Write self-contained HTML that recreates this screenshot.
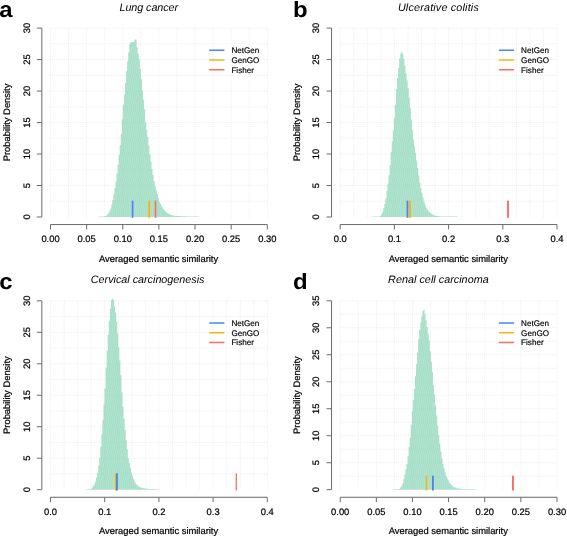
<!DOCTYPE html>
<html><head><meta charset="utf-8"><title>Semantic similarity distributions</title>
<style>html,body{margin:0;padding:0;background:#fff;}body{width:567px;height:538px;overflow:hidden;font-family:"Liberation Sans",sans-serif;}svg{display:block;}text{text-rendering:geometricPrecision;}</style>
</head><body>
<svg width="567" height="538" viewBox="0 0 567 538">
<rect width="567" height="538" fill="#fff"/>
<defs>
<pattern id="stripe-a" patternUnits="userSpaceOnUse" x="0" y="0" width="2" height="13"><path d="M0,0h1v8h-1zM1,8h1v5h-1z" fill="#fff" fill-opacity="0.05"/><path d="M1,0h1v8h-1zM0,8h1v5h-1z" fill="#2a7a5c" fill-opacity="0.03"/></pattern>
<pattern id="stripe-b" patternUnits="userSpaceOnUse" x="0" y="0" width="2" height="13"><path d="M0,0h1v8h-1zM1,8h1v5h-1z" fill="#fff" fill-opacity="0.05"/><path d="M1,0h1v8h-1zM0,8h1v5h-1z" fill="#2a7a5c" fill-opacity="0.03"/></pattern>
<pattern id="stripe-c" patternUnits="userSpaceOnUse" x="0" y="0" width="2" height="13"><path d="M0,0h1v8h-1zM1,8h1v5h-1z" fill="#fff" fill-opacity="0.05"/><path d="M1,0h1v8h-1zM0,8h1v5h-1z" fill="#2a7a5c" fill-opacity="0.03"/></pattern>
<pattern id="stripe-d" patternUnits="userSpaceOnUse" x="0" y="0" width="2" height="13"><path d="M0,0h1v8h-1zM1,8h1v5h-1z" fill="#fff" fill-opacity="0.05"/><path d="M1,0h1v8h-1zM0,8h1v5h-1z" fill="#2a7a5c" fill-opacity="0.03"/></pattern>
</defs>
<g id="panel-a">
<g stroke="#d7d7d7" stroke-width="0.6" stroke-dasharray="0.7 1.3" fill="none">
<line x1="50.50" y1="28.10" x2="50.50" y2="217.00"/>
<line x1="68.57" y1="28.10" x2="68.57" y2="217.00"/>
<line x1="86.63" y1="28.10" x2="86.63" y2="217.00"/>
<line x1="104.70" y1="28.10" x2="104.70" y2="217.00"/>
<line x1="122.77" y1="28.10" x2="122.77" y2="217.00"/>
<line x1="140.83" y1="28.10" x2="140.83" y2="217.00"/>
<line x1="158.90" y1="28.10" x2="158.90" y2="217.00"/>
<line x1="176.97" y1="28.10" x2="176.97" y2="217.00"/>
<line x1="195.03" y1="28.10" x2="195.03" y2="217.00"/>
<line x1="213.10" y1="28.10" x2="213.10" y2="217.00"/>
<line x1="231.17" y1="28.10" x2="231.17" y2="217.00"/>
<line x1="249.23" y1="28.10" x2="249.23" y2="217.00"/>
<line x1="267.30" y1="28.10" x2="267.30" y2="217.00"/>
<line x1="50.50" y1="201.26" x2="267.30" y2="201.26"/>
<line x1="50.50" y1="185.52" x2="267.30" y2="185.52"/>
<line x1="50.50" y1="169.78" x2="267.30" y2="169.78"/>
<line x1="50.50" y1="154.03" x2="267.30" y2="154.03"/>
<line x1="50.50" y1="138.29" x2="267.30" y2="138.29"/>
<line x1="50.50" y1="122.55" x2="267.30" y2="122.55"/>
<line x1="50.50" y1="106.81" x2="267.30" y2="106.81"/>
<line x1="50.50" y1="91.07" x2="267.30" y2="91.07"/>
<line x1="50.50" y1="75.32" x2="267.30" y2="75.32"/>
<line x1="50.50" y1="59.58" x2="267.30" y2="59.58"/>
<line x1="50.50" y1="43.84" x2="267.30" y2="43.84"/>
<line x1="50.50" y1="28.10" x2="267.30" y2="28.10"/>
</g>
<path id="hist-a" fill="#ace2cc" d="M98.50,217.00V216.55H99.56V216.54H100.62V216.51H101.68V216.47H102.74V216.44H103.80V216.41H104.86V215.97H105.92V215.32H106.98V214.48H108.04V213.25H109.10V211.34H110.16V208.63H111.22V204.60H112.28V199.94H113.34V194.13H114.40V188.32H115.46V181.58H116.52V173.60H117.58V164.76H118.64V154.84H119.70V144.93H120.76V133.95H121.82V119.21H122.88V104.64H123.94V94.79H125.00V82.90H126.06V71.24H127.12V61.33H128.18V52.52H129.24V43.94H130.30V42.06H131.36V42.21H132.42V42.06H133.48V41.86H134.54V39.60H135.60V39.60H136.66V47.52H137.72V53.41H138.78V59.29H139.84V69.00H140.90V79.37H141.96V90.60H143.02V99.59H144.08V109.05H145.14V122.53H146.20V129.71H147.26V136.89H148.32V145.64H149.38V154.30H150.44V161.63H151.50V168.96H152.56V174.98H153.62V180.97H154.68V186.31H155.74V190.32H156.80V194.33H157.86V198.34H158.92V201.64H159.98V203.67H161.04V205.71H162.10V207.74H163.16V209.15H164.22V210.47H165.28V211.79H166.34V212.81H167.40V213.37H168.46V213.92H169.52V214.48H170.58V214.90H171.64V215.15H172.70V215.40H173.76V215.64H174.82V215.82H175.88V215.88H176.94V215.94H178.00V216.00H179.06V216.06H180.12V216.12H181.18V216.19H182.24V216.25H183.30V216.31H184.36V216.37H185.42V216.41H186.48V216.42H187.54V216.44H188.60V216.45H189.66V216.47H190.72V216.48H191.78V216.50H192.84V216.51H193.90V216.53H194.96V216.55H196.02V216.55H197.08V216.55H198.14V216.55H199.20V217.00Z"/>
<path fill="url(#stripe-a)" d="M98.50,217.00V216.55H99.56V216.54H100.62V216.51H101.68V216.47H102.74V216.44H103.80V216.41H104.86V215.97H105.92V215.32H106.98V214.48H108.04V213.25H109.10V211.34H110.16V208.63H111.22V204.60H112.28V199.94H113.34V194.13H114.40V188.32H115.46V181.58H116.52V173.60H117.58V164.76H118.64V154.84H119.70V144.93H120.76V133.95H121.82V119.21H122.88V104.64H123.94V94.79H125.00V82.90H126.06V71.24H127.12V61.33H128.18V52.52H129.24V43.94H130.30V42.06H131.36V42.21H132.42V42.06H133.48V41.86H134.54V39.60H135.60V39.60H136.66V47.52H137.72V53.41H138.78V59.29H139.84V69.00H140.90V79.37H141.96V90.60H143.02V99.59H144.08V109.05H145.14V122.53H146.20V129.71H147.26V136.89H148.32V145.64H149.38V154.30H150.44V161.63H151.50V168.96H152.56V174.98H153.62V180.97H154.68V186.31H155.74V190.32H156.80V194.33H157.86V198.34H158.92V201.64H159.98V203.67H161.04V205.71H162.10V207.74H163.16V209.15H164.22V210.47H165.28V211.79H166.34V212.81H167.40V213.37H168.46V213.92H169.52V214.48H170.58V214.90H171.64V215.15H172.70V215.40H173.76V215.64H174.82V215.82H175.88V215.88H176.94V215.94H178.00V216.00H179.06V216.06H180.12V216.12H181.18V216.19H182.24V216.25H183.30V216.31H184.36V216.37H185.42V216.41H186.48V216.42H187.54V216.44H188.60V216.45H189.66V216.47H190.72V216.48H191.78V216.50H192.84V216.51H193.90V216.53H194.96V216.55H196.02V216.55H197.08V216.55H198.14V216.55H199.20V217.00Z"/>
<clipPath id="clip-a"><path d="M98.50,217.00V216.55H99.56V216.54H100.62V216.51H101.68V216.47H102.74V216.44H103.80V216.41H104.86V215.97H105.92V215.32H106.98V214.48H108.04V213.25H109.10V211.34H110.16V208.63H111.22V204.60H112.28V199.94H113.34V194.13H114.40V188.32H115.46V181.58H116.52V173.60H117.58V164.76H118.64V154.84H119.70V144.93H120.76V133.95H121.82V119.21H122.88V104.64H123.94V94.79H125.00V82.90H126.06V71.24H127.12V61.33H128.18V52.52H129.24V43.94H130.30V42.06H131.36V42.21H132.42V42.06H133.48V41.86H134.54V39.60H135.60V39.60H136.66V47.52H137.72V53.41H138.78V59.29H139.84V69.00H140.90V79.37H141.96V90.60H143.02V99.59H144.08V109.05H145.14V122.53H146.20V129.71H147.26V136.89H148.32V145.64H149.38V154.30H150.44V161.63H151.50V168.96H152.56V174.98H153.62V180.97H154.68V186.31H155.74V190.32H156.80V194.33H157.86V198.34H158.92V201.64H159.98V203.67H161.04V205.71H162.10V207.74H163.16V209.15H164.22V210.47H165.28V211.79H166.34V212.81H167.40V213.37H168.46V213.92H169.52V214.48H170.58V214.90H171.64V215.15H172.70V215.40H173.76V215.64H174.82V215.82H175.88V215.88H176.94V215.94H178.00V216.00H179.06V216.06H180.12V216.12H181.18V216.19H182.24V216.25H183.30V216.31H184.36V216.37H185.42V216.41H186.48V216.42H187.54V216.44H188.60V216.45H189.66V216.47H190.72V216.48H191.78V216.50H192.84V216.51H193.90V216.53H194.96V216.55H196.02V216.55H197.08V216.55H198.14V216.55H199.20V217.00Z"/></clipPath>
<g clip-path="url(#clip-a)" stroke="#8fbfae" stroke-opacity="0.28" stroke-width="0.6" stroke-dasharray="0.7 1.3" fill="none">
<line x1="104.70" y1="28.10" x2="104.70" y2="217.00"/>
<line x1="122.77" y1="28.10" x2="122.77" y2="217.00"/>
<line x1="140.83" y1="28.10" x2="140.83" y2="217.00"/>
<line x1="158.90" y1="28.10" x2="158.90" y2="217.00"/>
<line x1="176.97" y1="28.10" x2="176.97" y2="217.00"/>
<line x1="195.03" y1="28.10" x2="195.03" y2="217.00"/>
<line x1="98.50" y1="201.26" x2="199.00" y2="201.26"/>
<line x1="98.50" y1="185.52" x2="199.00" y2="185.52"/>
<line x1="98.50" y1="169.78" x2="199.00" y2="169.78"/>
<line x1="98.50" y1="154.03" x2="199.00" y2="154.03"/>
<line x1="98.50" y1="138.29" x2="199.00" y2="138.29"/>
<line x1="98.50" y1="122.55" x2="199.00" y2="122.55"/>
<line x1="98.50" y1="106.81" x2="199.00" y2="106.81"/>
<line x1="98.50" y1="91.07" x2="199.00" y2="91.07"/>
<line x1="98.50" y1="75.32" x2="199.00" y2="75.32"/>
<line x1="98.50" y1="59.58" x2="199.00" y2="59.58"/>
<line x1="98.50" y1="43.84" x2="199.00" y2="43.84"/>
<line x1="98.50" y1="28.10" x2="199.00" y2="28.10"/>
</g>
<line x1="132.60" y1="200.66" x2="132.60" y2="217.80" stroke="#4f84ed" stroke-width="1.7"/>
<line x1="149.20" y1="200.66" x2="149.20" y2="217.80" stroke="#fbb312" stroke-width="1.85"/>
<line x1="155.50" y1="200.66" x2="155.50" y2="217.80" stroke="#f87064" stroke-width="1.7"/>
<g stroke="#6a6a6a" stroke-width="1" fill="none">
<path d="M41.85,28.10V217.00M41.85,217.00h-5M41.85,185.52h-5M41.85,154.03h-5M41.85,122.55h-5M41.85,91.07h-5M41.85,59.58h-5M41.85,28.10h-5M50.50,224.55H267.30M50.50,224.55v4.9M86.63,224.55v4.9M122.77,224.55v4.9M158.90,224.55v4.9M195.03,224.55v4.9M231.17,224.55v4.9M267.30,224.55v4.9"/>
</g>
<g font-family="Liberation Sans, sans-serif" font-size="9.4" fill="#000" stroke="#000" stroke-width="0.22" text-anchor="middle" style="filter:grayscale(1)">
<text x="50.50" y="242.30">0.00</text>
<text x="86.63" y="242.30">0.05</text>
<text x="122.77" y="242.30">0.10</text>
<text x="158.90" y="242.30">0.15</text>
<text x="195.03" y="242.30">0.20</text>
<text x="231.17" y="242.30">0.25</text>
<text x="267.30" y="242.30">0.30</text>
<text transform="translate(29.55,217.00) rotate(-90)">0</text>
<text transform="translate(29.55,185.52) rotate(-90)">5</text>
<text transform="translate(29.55,154.03) rotate(-90)">10</text>
<text transform="translate(29.55,122.55) rotate(-90)">15</text>
<text transform="translate(29.55,91.07) rotate(-90)">20</text>
<text transform="translate(29.55,59.58) rotate(-90)">25</text>
<text transform="translate(29.55,28.10) rotate(-90)">30</text>
<text x="158.60" y="261.70">Averaged semantic similarity</text>
<text transform="translate(10.25,122.45) rotate(-90)">Probability Density</text>
</g>
<line x1="209.70" y1="50.30" x2="223.90" y2="50.30" stroke="#4f84ed" stroke-width="1.4" stroke-linecap="round"/>
<line x1="209.70" y1="60.05" x2="223.90" y2="60.05" stroke="#fbb312" stroke-width="1.4" stroke-linecap="round"/>
<line x1="209.70" y1="69.80" x2="223.90" y2="69.80" stroke="#f87064" stroke-width="1.4" stroke-linecap="round"/>
<g font-family="Liberation Sans, sans-serif" font-size="8.1" fill="#000" stroke="#000" stroke-width="0.18" style="filter:grayscale(1)">
<text x="231.40" y="53.20">NetGen</text>
<text x="231.40" y="62.95">GenGO</text>
<text x="231.40" y="72.70">Fisher</text>
</g>
<text x="148.80" y="10.70" font-family="Liberation Sans, sans-serif" font-style="italic" font-size="10.8" fill="#000" text-anchor="middle" textLength="58.6" lengthAdjust="spacing" style="filter:grayscale(1)">Lung cancer</text>
<text transform="translate(-0.80,16.80) scale(1.08,1)" font-family="Liberation Sans, sans-serif" font-weight="bold" font-size="22.2" fill="#000" style="filter:grayscale(1)">a</text>
</g>
<g id="panel-b">
<g stroke="#d7d7d7" stroke-width="0.6" stroke-dasharray="0.7 1.3" fill="none">
<line x1="340.20" y1="28.10" x2="340.20" y2="217.00"/>
<line x1="353.75" y1="28.10" x2="353.75" y2="217.00"/>
<line x1="367.30" y1="28.10" x2="367.30" y2="217.00"/>
<line x1="380.85" y1="28.10" x2="380.85" y2="217.00"/>
<line x1="394.40" y1="28.10" x2="394.40" y2="217.00"/>
<line x1="407.95" y1="28.10" x2="407.95" y2="217.00"/>
<line x1="421.50" y1="28.10" x2="421.50" y2="217.00"/>
<line x1="435.05" y1="28.10" x2="435.05" y2="217.00"/>
<line x1="448.60" y1="28.10" x2="448.60" y2="217.00"/>
<line x1="462.15" y1="28.10" x2="462.15" y2="217.00"/>
<line x1="475.70" y1="28.10" x2="475.70" y2="217.00"/>
<line x1="489.25" y1="28.10" x2="489.25" y2="217.00"/>
<line x1="502.80" y1="28.10" x2="502.80" y2="217.00"/>
<line x1="516.35" y1="28.10" x2="516.35" y2="217.00"/>
<line x1="529.90" y1="28.10" x2="529.90" y2="217.00"/>
<line x1="543.45" y1="28.10" x2="543.45" y2="217.00"/>
<line x1="557.00" y1="28.10" x2="557.00" y2="217.00"/>
<line x1="340.20" y1="201.26" x2="557.00" y2="201.26"/>
<line x1="340.20" y1="185.52" x2="557.00" y2="185.52"/>
<line x1="340.20" y1="169.78" x2="557.00" y2="169.78"/>
<line x1="340.20" y1="154.03" x2="557.00" y2="154.03"/>
<line x1="340.20" y1="138.29" x2="557.00" y2="138.29"/>
<line x1="340.20" y1="122.55" x2="557.00" y2="122.55"/>
<line x1="340.20" y1="106.81" x2="557.00" y2="106.81"/>
<line x1="340.20" y1="91.07" x2="557.00" y2="91.07"/>
<line x1="340.20" y1="75.32" x2="557.00" y2="75.32"/>
<line x1="340.20" y1="59.58" x2="557.00" y2="59.58"/>
<line x1="340.20" y1="43.84" x2="557.00" y2="43.84"/>
<line x1="340.20" y1="28.10" x2="557.00" y2="28.10"/>
</g>
<path id="hist-b" fill="#ace2cc" d="M371.60,217.00V216.55H372.66V216.55H373.72V216.55H374.78V216.55H375.84V216.52H376.90V216.49H377.96V216.45H379.02V216.41H380.08V215.72H381.14V214.15H382.20V211.89H383.26V208.32H384.32V203.88H385.38V198.31H386.44V190.98H387.50V183.46H388.56V175.09H389.62V165.03H390.68V151.63H391.74V141.49H392.80V130.31H393.86V118.19H394.92V104.87H395.98V88.99H397.04V78.04H398.10V67.91H399.16V58.78H400.22V53.86H401.28V51.70H402.34V54.02H403.40V58.88H404.46V65.85H405.52V73.14H406.58V80.55H407.64V88.02H408.70V97.41H409.76V108.02H410.82V119.18H411.88V130.20H412.94V139.87H414.00V146.35H415.06V152.84H416.12V160.42H417.18V168.08H418.24V175.42H419.30V182.70H420.36V188.20H421.42V192.88H422.48V197.57H423.54V201.79H424.60V204.86H425.66V207.55H426.72V209.33H427.78V211.11H428.84V212.10H429.90V213.04H430.96V213.87H432.02V214.44H433.08V215.00H434.14V215.46H435.20V215.66H436.26V215.86H437.32V216.06H438.38V216.26H439.44V216.41H440.50V216.42H441.56V216.44H442.62V216.46H443.68V216.48H444.74V216.49H445.80V216.51H446.86V216.53H447.92V216.55H448.98V216.55H450.04V216.55H451.10V216.55H452.16V216.55H453.22V216.55H454.28V216.55H455.34V216.55H456.40V216.55H457.46V217.00Z"/>
<path fill="url(#stripe-b)" d="M371.60,217.00V216.55H372.66V216.55H373.72V216.55H374.78V216.55H375.84V216.52H376.90V216.49H377.96V216.45H379.02V216.41H380.08V215.72H381.14V214.15H382.20V211.89H383.26V208.32H384.32V203.88H385.38V198.31H386.44V190.98H387.50V183.46H388.56V175.09H389.62V165.03H390.68V151.63H391.74V141.49H392.80V130.31H393.86V118.19H394.92V104.87H395.98V88.99H397.04V78.04H398.10V67.91H399.16V58.78H400.22V53.86H401.28V51.70H402.34V54.02H403.40V58.88H404.46V65.85H405.52V73.14H406.58V80.55H407.64V88.02H408.70V97.41H409.76V108.02H410.82V119.18H411.88V130.20H412.94V139.87H414.00V146.35H415.06V152.84H416.12V160.42H417.18V168.08H418.24V175.42H419.30V182.70H420.36V188.20H421.42V192.88H422.48V197.57H423.54V201.79H424.60V204.86H425.66V207.55H426.72V209.33H427.78V211.11H428.84V212.10H429.90V213.04H430.96V213.87H432.02V214.44H433.08V215.00H434.14V215.46H435.20V215.66H436.26V215.86H437.32V216.06H438.38V216.26H439.44V216.41H440.50V216.42H441.56V216.44H442.62V216.46H443.68V216.48H444.74V216.49H445.80V216.51H446.86V216.53H447.92V216.55H448.98V216.55H450.04V216.55H451.10V216.55H452.16V216.55H453.22V216.55H454.28V216.55H455.34V216.55H456.40V216.55H457.46V217.00Z"/>
<clipPath id="clip-b"><path d="M371.60,217.00V216.55H372.66V216.55H373.72V216.55H374.78V216.55H375.84V216.52H376.90V216.49H377.96V216.45H379.02V216.41H380.08V215.72H381.14V214.15H382.20V211.89H383.26V208.32H384.32V203.88H385.38V198.31H386.44V190.98H387.50V183.46H388.56V175.09H389.62V165.03H390.68V151.63H391.74V141.49H392.80V130.31H393.86V118.19H394.92V104.87H395.98V88.99H397.04V78.04H398.10V67.91H399.16V58.78H400.22V53.86H401.28V51.70H402.34V54.02H403.40V58.88H404.46V65.85H405.52V73.14H406.58V80.55H407.64V88.02H408.70V97.41H409.76V108.02H410.82V119.18H411.88V130.20H412.94V139.87H414.00V146.35H415.06V152.84H416.12V160.42H417.18V168.08H418.24V175.42H419.30V182.70H420.36V188.20H421.42V192.88H422.48V197.57H423.54V201.79H424.60V204.86H425.66V207.55H426.72V209.33H427.78V211.11H428.84V212.10H429.90V213.04H430.96V213.87H432.02V214.44H433.08V215.00H434.14V215.46H435.20V215.66H436.26V215.86H437.32V216.06H438.38V216.26H439.44V216.41H440.50V216.42H441.56V216.44H442.62V216.46H443.68V216.48H444.74V216.49H445.80V216.51H446.86V216.53H447.92V216.55H448.98V216.55H450.04V216.55H451.10V216.55H452.16V216.55H453.22V216.55H454.28V216.55H455.34V216.55H456.40V216.55H457.46V217.00Z"/></clipPath>
<g clip-path="url(#clip-b)" stroke="#8fbfae" stroke-opacity="0.28" stroke-width="0.6" stroke-dasharray="0.7 1.3" fill="none">
<line x1="380.85" y1="28.10" x2="380.85" y2="217.00"/>
<line x1="394.40" y1="28.10" x2="394.40" y2="217.00"/>
<line x1="407.95" y1="28.10" x2="407.95" y2="217.00"/>
<line x1="421.50" y1="28.10" x2="421.50" y2="217.00"/>
<line x1="435.05" y1="28.10" x2="435.05" y2="217.00"/>
<line x1="448.60" y1="28.10" x2="448.60" y2="217.00"/>
<line x1="371.60" y1="201.26" x2="457.40" y2="201.26"/>
<line x1="371.60" y1="185.52" x2="457.40" y2="185.52"/>
<line x1="371.60" y1="169.78" x2="457.40" y2="169.78"/>
<line x1="371.60" y1="154.03" x2="457.40" y2="154.03"/>
<line x1="371.60" y1="138.29" x2="457.40" y2="138.29"/>
<line x1="371.60" y1="122.55" x2="457.40" y2="122.55"/>
<line x1="371.60" y1="106.81" x2="457.40" y2="106.81"/>
<line x1="371.60" y1="91.07" x2="457.40" y2="91.07"/>
<line x1="371.60" y1="75.32" x2="457.40" y2="75.32"/>
<line x1="371.60" y1="59.58" x2="457.40" y2="59.58"/>
<line x1="371.60" y1="43.84" x2="457.40" y2="43.84"/>
<line x1="371.60" y1="28.10" x2="457.40" y2="28.10"/>
</g>
<line x1="407.45" y1="200.66" x2="407.45" y2="217.80" stroke="#4f84ed" stroke-width="1.8"/>
<line x1="409.95" y1="200.66" x2="409.95" y2="217.80" stroke="#fbb312" stroke-width="1.95"/>
<line x1="508.05" y1="200.66" x2="508.05" y2="217.80" stroke="#f87064" stroke-width="1.95"/>
<g stroke="#6a6a6a" stroke-width="1" fill="none">
<path d="M331.55,28.10V217.00M331.55,217.00h-5M331.55,185.52h-5M331.55,154.03h-5M331.55,122.55h-5M331.55,91.07h-5M331.55,59.58h-5M331.55,28.10h-5M340.20,224.55H557.00M340.20,224.55v4.9M394.40,224.55v4.9M448.60,224.55v4.9M502.80,224.55v4.9M557.00,224.55v4.9"/>
</g>
<g font-family="Liberation Sans, sans-serif" font-size="9.4" fill="#000" stroke="#000" stroke-width="0.22" text-anchor="middle" style="filter:grayscale(1)">
<text x="340.20" y="242.30">0.0</text>
<text x="394.40" y="242.30">0.1</text>
<text x="448.60" y="242.30">0.2</text>
<text x="502.80" y="242.30">0.3</text>
<text x="557.00" y="242.30">0.4</text>
<text transform="translate(319.25,217.00) rotate(-90)">0</text>
<text transform="translate(319.25,185.52) rotate(-90)">5</text>
<text transform="translate(319.25,154.03) rotate(-90)">10</text>
<text transform="translate(319.25,122.55) rotate(-90)">15</text>
<text transform="translate(319.25,91.07) rotate(-90)">20</text>
<text transform="translate(319.25,59.58) rotate(-90)">25</text>
<text transform="translate(319.25,28.10) rotate(-90)">30</text>
<text x="448.30" y="261.70">Averaged semantic similarity</text>
<text transform="translate(299.95,122.45) rotate(-90)">Probability Density</text>
</g>
<line x1="499.40" y1="50.30" x2="513.60" y2="50.30" stroke="#4f84ed" stroke-width="1.4" stroke-linecap="round"/>
<line x1="499.40" y1="60.05" x2="513.60" y2="60.05" stroke="#fbb312" stroke-width="1.4" stroke-linecap="round"/>
<line x1="499.40" y1="69.80" x2="513.60" y2="69.80" stroke="#f87064" stroke-width="1.4" stroke-linecap="round"/>
<g font-family="Liberation Sans, sans-serif" font-size="8.1" fill="#000" stroke="#000" stroke-width="0.18" style="filter:grayscale(1)">
<text x="521.10" y="53.20">NetGen</text>
<text x="521.10" y="62.95">GenGO</text>
<text x="521.10" y="72.70">Fisher</text>
</g>
<text x="438.35" y="10.70" font-family="Liberation Sans, sans-serif" font-style="italic" font-size="10.8" fill="#000" text-anchor="middle" textLength="80.9" lengthAdjust="spacing" style="filter:grayscale(1)">Ulcerative colitis</text>
<text transform="translate(292.90,16.80) scale(1.08,1)" font-family="Liberation Sans, sans-serif" font-weight="bold" font-size="22.2" fill="#000" style="filter:grayscale(1)">b</text>
</g>
<g id="panel-c">
<g stroke="#d7d7d7" stroke-width="0.6" stroke-dasharray="0.7 1.3" fill="none">
<line x1="50.50" y1="300.80" x2="50.50" y2="489.70"/>
<line x1="64.05" y1="300.80" x2="64.05" y2="489.70"/>
<line x1="77.60" y1="300.80" x2="77.60" y2="489.70"/>
<line x1="91.15" y1="300.80" x2="91.15" y2="489.70"/>
<line x1="104.70" y1="300.80" x2="104.70" y2="489.70"/>
<line x1="118.25" y1="300.80" x2="118.25" y2="489.70"/>
<line x1="131.80" y1="300.80" x2="131.80" y2="489.70"/>
<line x1="145.35" y1="300.80" x2="145.35" y2="489.70"/>
<line x1="158.90" y1="300.80" x2="158.90" y2="489.70"/>
<line x1="172.45" y1="300.80" x2="172.45" y2="489.70"/>
<line x1="186.00" y1="300.80" x2="186.00" y2="489.70"/>
<line x1="199.55" y1="300.80" x2="199.55" y2="489.70"/>
<line x1="213.10" y1="300.80" x2="213.10" y2="489.70"/>
<line x1="226.65" y1="300.80" x2="226.65" y2="489.70"/>
<line x1="240.20" y1="300.80" x2="240.20" y2="489.70"/>
<line x1="253.75" y1="300.80" x2="253.75" y2="489.70"/>
<line x1="267.30" y1="300.80" x2="267.30" y2="489.70"/>
<line x1="50.50" y1="473.96" x2="267.30" y2="473.96"/>
<line x1="50.50" y1="458.22" x2="267.30" y2="458.22"/>
<line x1="50.50" y1="442.48" x2="267.30" y2="442.48"/>
<line x1="50.50" y1="426.73" x2="267.30" y2="426.73"/>
<line x1="50.50" y1="410.99" x2="267.30" y2="410.99"/>
<line x1="50.50" y1="395.25" x2="267.30" y2="395.25"/>
<line x1="50.50" y1="379.51" x2="267.30" y2="379.51"/>
<line x1="50.50" y1="363.77" x2="267.30" y2="363.77"/>
<line x1="50.50" y1="348.02" x2="267.30" y2="348.02"/>
<line x1="50.50" y1="332.28" x2="267.30" y2="332.28"/>
<line x1="50.50" y1="316.54" x2="267.30" y2="316.54"/>
<line x1="50.50" y1="300.80" x2="267.30" y2="300.80"/>
</g>
<path id="hist-c" fill="#ace2cc" d="M86.50,489.70V489.24H87.56V489.16H88.62V489.08H89.68V488.99H90.74V488.91H91.80V487.61H92.86V486.03H93.92V484.47H94.98V481.65H96.04V477.61H97.10V472.75H98.16V465.42H99.22V458.04H100.28V446.80H101.34V434.58H102.40V420.22H103.46V404.58H104.52V388.49H105.58V367.77H106.64V350.52H107.70V334.96H108.76V320.74H109.82V308.81H110.88V300.20H111.94V298.60H113.00V300.00H114.06V306.03H115.12V312.87H116.18V321.94H117.24V333.39H118.30V347.44H119.36V360.44H120.42V375.15H121.48V392.46H122.54V406.70H123.60V418.71H124.66V429.71H125.72V440.18H126.78V449.37H127.84V458.22H128.90V463.04H129.96V467.85H131.02V472.67H132.08V476.16H133.14V479.08H134.20V481.56H135.26V483.17H136.32V484.54H137.38V485.46H138.44V486.39H139.50V487.14H140.56V487.55H141.62V487.96H142.68V488.25H143.74V488.36H144.80V488.48H145.86V488.60H146.92V488.71H147.98V488.83H149.04V488.92H150.10V488.96H151.16V489.01H152.22V489.05H153.28V489.10H154.34V489.14H155.40V489.18H156.46V489.23H157.52V489.25H158.58V489.70Z"/>
<path fill="url(#stripe-c)" d="M86.50,489.70V489.24H87.56V489.16H88.62V489.08H89.68V488.99H90.74V488.91H91.80V487.61H92.86V486.03H93.92V484.47H94.98V481.65H96.04V477.61H97.10V472.75H98.16V465.42H99.22V458.04H100.28V446.80H101.34V434.58H102.40V420.22H103.46V404.58H104.52V388.49H105.58V367.77H106.64V350.52H107.70V334.96H108.76V320.74H109.82V308.81H110.88V300.20H111.94V298.60H113.00V300.00H114.06V306.03H115.12V312.87H116.18V321.94H117.24V333.39H118.30V347.44H119.36V360.44H120.42V375.15H121.48V392.46H122.54V406.70H123.60V418.71H124.66V429.71H125.72V440.18H126.78V449.37H127.84V458.22H128.90V463.04H129.96V467.85H131.02V472.67H132.08V476.16H133.14V479.08H134.20V481.56H135.26V483.17H136.32V484.54H137.38V485.46H138.44V486.39H139.50V487.14H140.56V487.55H141.62V487.96H142.68V488.25H143.74V488.36H144.80V488.48H145.86V488.60H146.92V488.71H147.98V488.83H149.04V488.92H150.10V488.96H151.16V489.01H152.22V489.05H153.28V489.10H154.34V489.14H155.40V489.18H156.46V489.23H157.52V489.25H158.58V489.70Z"/>
<clipPath id="clip-c"><path d="M86.50,489.70V489.24H87.56V489.16H88.62V489.08H89.68V488.99H90.74V488.91H91.80V487.61H92.86V486.03H93.92V484.47H94.98V481.65H96.04V477.61H97.10V472.75H98.16V465.42H99.22V458.04H100.28V446.80H101.34V434.58H102.40V420.22H103.46V404.58H104.52V388.49H105.58V367.77H106.64V350.52H107.70V334.96H108.76V320.74H109.82V308.81H110.88V300.20H111.94V298.60H113.00V300.00H114.06V306.03H115.12V312.87H116.18V321.94H117.24V333.39H118.30V347.44H119.36V360.44H120.42V375.15H121.48V392.46H122.54V406.70H123.60V418.71H124.66V429.71H125.72V440.18H126.78V449.37H127.84V458.22H128.90V463.04H129.96V467.85H131.02V472.67H132.08V476.16H133.14V479.08H134.20V481.56H135.26V483.17H136.32V484.54H137.38V485.46H138.44V486.39H139.50V487.14H140.56V487.55H141.62V487.96H142.68V488.25H143.74V488.36H144.80V488.48H145.86V488.60H146.92V488.71H147.98V488.83H149.04V488.92H150.10V488.96H151.16V489.01H152.22V489.05H153.28V489.10H154.34V489.14H155.40V489.18H156.46V489.23H157.52V489.25H158.58V489.70Z"/></clipPath>
<g clip-path="url(#clip-c)" stroke="#8fbfae" stroke-opacity="0.28" stroke-width="0.6" stroke-dasharray="0.7 1.3" fill="none">
<line x1="91.15" y1="300.80" x2="91.15" y2="489.70"/>
<line x1="104.70" y1="300.80" x2="104.70" y2="489.70"/>
<line x1="118.25" y1="300.80" x2="118.25" y2="489.70"/>
<line x1="131.80" y1="300.80" x2="131.80" y2="489.70"/>
<line x1="145.35" y1="300.80" x2="145.35" y2="489.70"/>
<line x1="158.90" y1="300.80" x2="158.90" y2="489.70"/>
<line x1="86.50" y1="473.96" x2="158.40" y2="473.96"/>
<line x1="86.50" y1="458.22" x2="158.40" y2="458.22"/>
<line x1="86.50" y1="442.48" x2="158.40" y2="442.48"/>
<line x1="86.50" y1="426.73" x2="158.40" y2="426.73"/>
<line x1="86.50" y1="410.99" x2="158.40" y2="410.99"/>
<line x1="86.50" y1="395.25" x2="158.40" y2="395.25"/>
<line x1="86.50" y1="379.51" x2="158.40" y2="379.51"/>
<line x1="86.50" y1="363.77" x2="158.40" y2="363.77"/>
<line x1="86.50" y1="348.02" x2="158.40" y2="348.02"/>
<line x1="86.50" y1="332.28" x2="158.40" y2="332.28"/>
<line x1="86.50" y1="316.54" x2="158.40" y2="316.54"/>
<line x1="86.50" y1="300.80" x2="158.40" y2="300.80"/>
</g>
<line x1="115.80" y1="473.36" x2="115.80" y2="490.50" stroke="#fbb312" stroke-width="1.8"/>
<line x1="116.95" y1="473.36" x2="116.95" y2="490.50" stroke="#4f84ed" stroke-width="1.8"/>
<line x1="236.30" y1="473.36" x2="236.30" y2="490.50" stroke="#f87064" stroke-width="1.3"/>
<g stroke="#6a6a6a" stroke-width="1" fill="none">
<path d="M41.85,300.80V489.70M41.85,489.70h-5M41.85,458.22h-5M41.85,426.73h-5M41.85,395.25h-5M41.85,363.77h-5M41.85,332.28h-5M41.85,300.80h-5M50.50,497.25H267.30M50.50,497.25v4.9M104.70,497.25v4.9M158.90,497.25v4.9M213.10,497.25v4.9M267.30,497.25v4.9"/>
</g>
<g font-family="Liberation Sans, sans-serif" font-size="9.4" fill="#000" stroke="#000" stroke-width="0.22" text-anchor="middle" style="filter:grayscale(1)">
<text x="50.50" y="515.00">0.0</text>
<text x="104.70" y="515.00">0.1</text>
<text x="158.90" y="515.00">0.2</text>
<text x="213.10" y="515.00">0.3</text>
<text x="267.30" y="515.00">0.4</text>
<text transform="translate(29.55,489.70) rotate(-90)">0</text>
<text transform="translate(29.55,458.22) rotate(-90)">5</text>
<text transform="translate(29.55,426.73) rotate(-90)">10</text>
<text transform="translate(29.55,395.25) rotate(-90)">15</text>
<text transform="translate(29.55,363.77) rotate(-90)">20</text>
<text transform="translate(29.55,332.28) rotate(-90)">25</text>
<text transform="translate(29.55,300.80) rotate(-90)">30</text>
<text x="158.60" y="534.40">Averaged semantic similarity</text>
<text transform="translate(10.25,395.15) rotate(-90)">Probability Density</text>
</g>
<line x1="209.70" y1="323.00" x2="223.90" y2="323.00" stroke="#4f84ed" stroke-width="1.4" stroke-linecap="round"/>
<line x1="209.70" y1="332.75" x2="223.90" y2="332.75" stroke="#fbb312" stroke-width="1.4" stroke-linecap="round"/>
<line x1="209.70" y1="342.50" x2="223.90" y2="342.50" stroke="#f87064" stroke-width="1.4" stroke-linecap="round"/>
<g font-family="Liberation Sans, sans-serif" font-size="8.1" fill="#000" stroke="#000" stroke-width="0.18" style="filter:grayscale(1)">
<text x="231.40" y="325.90">NetGen</text>
<text x="231.40" y="335.65">GenGO</text>
<text x="231.40" y="345.40">Fisher</text>
</g>
<text x="147.65" y="283.40" font-family="Liberation Sans, sans-serif" font-style="italic" font-size="10.8" fill="#000" text-anchor="middle" textLength="113.7" lengthAdjust="spacing" style="filter:grayscale(1)">Cervical carcinogenesis</text>
<text transform="translate(-0.80,289.00) scale(1.08,1)" font-family="Liberation Sans, sans-serif" font-weight="bold" font-size="22.2" fill="#000" style="filter:grayscale(1)">c</text>
</g>
<g id="panel-d">
<g stroke="#d7d7d7" stroke-width="0.6" stroke-dasharray="0.7 1.3" fill="none">
<line x1="340.20" y1="300.80" x2="340.20" y2="489.70"/>
<line x1="358.27" y1="300.80" x2="358.27" y2="489.70"/>
<line x1="376.33" y1="300.80" x2="376.33" y2="489.70"/>
<line x1="394.40" y1="300.80" x2="394.40" y2="489.70"/>
<line x1="412.47" y1="300.80" x2="412.47" y2="489.70"/>
<line x1="430.53" y1="300.80" x2="430.53" y2="489.70"/>
<line x1="448.60" y1="300.80" x2="448.60" y2="489.70"/>
<line x1="466.67" y1="300.80" x2="466.67" y2="489.70"/>
<line x1="484.73" y1="300.80" x2="484.73" y2="489.70"/>
<line x1="502.80" y1="300.80" x2="502.80" y2="489.70"/>
<line x1="520.87" y1="300.80" x2="520.87" y2="489.70"/>
<line x1="538.93" y1="300.80" x2="538.93" y2="489.70"/>
<line x1="557.00" y1="300.80" x2="557.00" y2="489.70"/>
<line x1="340.20" y1="476.21" x2="557.00" y2="476.21"/>
<line x1="340.20" y1="462.71" x2="557.00" y2="462.71"/>
<line x1="340.20" y1="449.22" x2="557.00" y2="449.22"/>
<line x1="340.20" y1="435.73" x2="557.00" y2="435.73"/>
<line x1="340.20" y1="422.24" x2="557.00" y2="422.24"/>
<line x1="340.20" y1="408.74" x2="557.00" y2="408.74"/>
<line x1="340.20" y1="395.25" x2="557.00" y2="395.25"/>
<line x1="340.20" y1="381.76" x2="557.00" y2="381.76"/>
<line x1="340.20" y1="368.26" x2="557.00" y2="368.26"/>
<line x1="340.20" y1="354.77" x2="557.00" y2="354.77"/>
<line x1="340.20" y1="341.28" x2="557.00" y2="341.28"/>
<line x1="340.20" y1="327.79" x2="557.00" y2="327.79"/>
<line x1="340.20" y1="314.29" x2="557.00" y2="314.29"/>
<line x1="340.20" y1="300.80" x2="557.00" y2="300.80"/>
</g>
<path id="hist-d" fill="#ace2cc" d="M392.70,489.70V489.25H393.76V489.25H394.82V489.23H395.88V489.17H396.94V489.10H398.00V489.04H399.06V488.64H400.12V487.38H401.18V485.65H402.24V483.53H403.30V479.28H404.36V474.45H405.42V469.23H406.48V464.01H407.54V456.12H408.60V447.35H409.66V437.81H410.72V424.68H411.78V411.30H412.84V400.09H413.90V388.82H414.96V376.26H416.02V364.09H417.08V352.48H418.14V339.02H419.20V329.62H420.26V322.38H421.32V315.67H422.38V311.10H423.44V309.40H424.50V313.83H425.56V320.36H426.62V327.07H427.68V333.78H428.74V340.50H429.80V351.34H430.86V361.43H431.92V372.22H432.98V384.88H434.04V394.46H435.10V405.13H436.16V415.59H437.22V425.64H438.28V435.11H439.34V443.58H440.40V451.50H441.46V458.46H442.52V464.32H443.58V468.24H444.64V472.15H445.70V476.07H446.76V478.37H447.82V480.62H448.88V482.87H449.94V484.08H451.00V485.11H452.06V486.14H453.12V486.84H454.18V487.27H455.24V487.71H456.30V488.14H457.36V488.34H458.42V488.50H459.48V488.66H460.54V488.82H461.60V488.98H462.66V489.03H463.72V489.06H464.78V489.09H465.84V489.12H466.90V489.15H467.96V489.18H469.02V489.21H470.08V489.24H471.14V489.25H472.20V489.25H473.26V489.25H474.32V489.25H475.38V489.25H476.44V489.70Z"/>
<path fill="url(#stripe-d)" d="M392.70,489.70V489.25H393.76V489.25H394.82V489.23H395.88V489.17H396.94V489.10H398.00V489.04H399.06V488.64H400.12V487.38H401.18V485.65H402.24V483.53H403.30V479.28H404.36V474.45H405.42V469.23H406.48V464.01H407.54V456.12H408.60V447.35H409.66V437.81H410.72V424.68H411.78V411.30H412.84V400.09H413.90V388.82H414.96V376.26H416.02V364.09H417.08V352.48H418.14V339.02H419.20V329.62H420.26V322.38H421.32V315.67H422.38V311.10H423.44V309.40H424.50V313.83H425.56V320.36H426.62V327.07H427.68V333.78H428.74V340.50H429.80V351.34H430.86V361.43H431.92V372.22H432.98V384.88H434.04V394.46H435.10V405.13H436.16V415.59H437.22V425.64H438.28V435.11H439.34V443.58H440.40V451.50H441.46V458.46H442.52V464.32H443.58V468.24H444.64V472.15H445.70V476.07H446.76V478.37H447.82V480.62H448.88V482.87H449.94V484.08H451.00V485.11H452.06V486.14H453.12V486.84H454.18V487.27H455.24V487.71H456.30V488.14H457.36V488.34H458.42V488.50H459.48V488.66H460.54V488.82H461.60V488.98H462.66V489.03H463.72V489.06H464.78V489.09H465.84V489.12H466.90V489.15H467.96V489.18H469.02V489.21H470.08V489.24H471.14V489.25H472.20V489.25H473.26V489.25H474.32V489.25H475.38V489.25H476.44V489.70Z"/>
<clipPath id="clip-d"><path d="M392.70,489.70V489.25H393.76V489.25H394.82V489.23H395.88V489.17H396.94V489.10H398.00V489.04H399.06V488.64H400.12V487.38H401.18V485.65H402.24V483.53H403.30V479.28H404.36V474.45H405.42V469.23H406.48V464.01H407.54V456.12H408.60V447.35H409.66V437.81H410.72V424.68H411.78V411.30H412.84V400.09H413.90V388.82H414.96V376.26H416.02V364.09H417.08V352.48H418.14V339.02H419.20V329.62H420.26V322.38H421.32V315.67H422.38V311.10H423.44V309.40H424.50V313.83H425.56V320.36H426.62V327.07H427.68V333.78H428.74V340.50H429.80V351.34H430.86V361.43H431.92V372.22H432.98V384.88H434.04V394.46H435.10V405.13H436.16V415.59H437.22V425.64H438.28V435.11H439.34V443.58H440.40V451.50H441.46V458.46H442.52V464.32H443.58V468.24H444.64V472.15H445.70V476.07H446.76V478.37H447.82V480.62H448.88V482.87H449.94V484.08H451.00V485.11H452.06V486.14H453.12V486.84H454.18V487.27H455.24V487.71H456.30V488.14H457.36V488.34H458.42V488.50H459.48V488.66H460.54V488.82H461.60V488.98H462.66V489.03H463.72V489.06H464.78V489.09H465.84V489.12H466.90V489.15H467.96V489.18H469.02V489.21H470.08V489.24H471.14V489.25H472.20V489.25H473.26V489.25H474.32V489.25H475.38V489.25H476.44V489.70Z"/></clipPath>
<g clip-path="url(#clip-d)" stroke="#8fbfae" stroke-opacity="0.28" stroke-width="0.6" stroke-dasharray="0.7 1.3" fill="none">
<line x1="394.40" y1="300.80" x2="394.40" y2="489.70"/>
<line x1="412.47" y1="300.80" x2="412.47" y2="489.70"/>
<line x1="430.53" y1="300.80" x2="430.53" y2="489.70"/>
<line x1="448.60" y1="300.80" x2="448.60" y2="489.70"/>
<line x1="466.67" y1="300.80" x2="466.67" y2="489.70"/>
<line x1="392.70" y1="476.21" x2="475.80" y2="476.21"/>
<line x1="392.70" y1="462.71" x2="475.80" y2="462.71"/>
<line x1="392.70" y1="449.22" x2="475.80" y2="449.22"/>
<line x1="392.70" y1="435.73" x2="475.80" y2="435.73"/>
<line x1="392.70" y1="422.24" x2="475.80" y2="422.24"/>
<line x1="392.70" y1="408.74" x2="475.80" y2="408.74"/>
<line x1="392.70" y1="395.25" x2="475.80" y2="395.25"/>
<line x1="392.70" y1="381.76" x2="475.80" y2="381.76"/>
<line x1="392.70" y1="368.26" x2="475.80" y2="368.26"/>
<line x1="392.70" y1="354.77" x2="475.80" y2="354.77"/>
<line x1="392.70" y1="341.28" x2="475.80" y2="341.28"/>
<line x1="392.70" y1="327.79" x2="475.80" y2="327.79"/>
<line x1="392.70" y1="314.29" x2="475.80" y2="314.29"/>
<line x1="392.70" y1="300.80" x2="475.80" y2="300.80"/>
</g>
<line x1="426.50" y1="475.61" x2="426.50" y2="490.50" stroke="#fbb312" stroke-width="1.5"/>
<line x1="432.90" y1="475.61" x2="432.90" y2="490.50" stroke="#4f84ed" stroke-width="1.85"/>
<line x1="512.95" y1="475.61" x2="512.95" y2="490.50" stroke="#f87064" stroke-width="1.95"/>
<g stroke="#6a6a6a" stroke-width="1" fill="none">
<path d="M331.55,300.80V489.70M331.55,489.70h-5M331.55,462.71h-5M331.55,435.73h-5M331.55,408.74h-5M331.55,381.76h-5M331.55,354.77h-5M331.55,327.79h-5M331.55,300.80h-5M340.20,497.25H557.00M340.20,497.25v4.9M376.33,497.25v4.9M412.47,497.25v4.9M448.60,497.25v4.9M484.73,497.25v4.9M520.87,497.25v4.9M557.00,497.25v4.9"/>
</g>
<g font-family="Liberation Sans, sans-serif" font-size="9.4" fill="#000" stroke="#000" stroke-width="0.22" text-anchor="middle" style="filter:grayscale(1)">
<text x="340.20" y="515.00">0.00</text>
<text x="376.33" y="515.00">0.05</text>
<text x="412.47" y="515.00">0.10</text>
<text x="448.60" y="515.00">0.15</text>
<text x="484.73" y="515.00">0.20</text>
<text x="520.87" y="515.00">0.25</text>
<text x="557.00" y="515.00">0.30</text>
<text transform="translate(319.25,489.70) rotate(-90)">0</text>
<text transform="translate(319.25,462.71) rotate(-90)">5</text>
<text transform="translate(319.25,435.73) rotate(-90)">10</text>
<text transform="translate(319.25,408.74) rotate(-90)">15</text>
<text transform="translate(319.25,381.76) rotate(-90)">20</text>
<text transform="translate(319.25,354.77) rotate(-90)">25</text>
<text transform="translate(319.25,327.79) rotate(-90)">30</text>
<text transform="translate(319.25,300.80) rotate(-90)">35</text>
<text x="448.30" y="534.40">Averaged semantic similarity</text>
<text transform="translate(299.95,395.15) rotate(-90)">Probability Density</text>
</g>
<line x1="499.40" y1="323.00" x2="513.60" y2="323.00" stroke="#4f84ed" stroke-width="1.4" stroke-linecap="round"/>
<line x1="499.40" y1="332.75" x2="513.60" y2="332.75" stroke="#fbb312" stroke-width="1.4" stroke-linecap="round"/>
<line x1="499.40" y1="342.50" x2="513.60" y2="342.50" stroke="#f87064" stroke-width="1.4" stroke-linecap="round"/>
<g font-family="Liberation Sans, sans-serif" font-size="8.1" fill="#000" stroke="#000" stroke-width="0.18" style="filter:grayscale(1)">
<text x="521.10" y="325.90">NetGen</text>
<text x="521.10" y="335.65">GenGO</text>
<text x="521.10" y="345.40">Fisher</text>
</g>
<text x="438.40" y="283.40" font-family="Liberation Sans, sans-serif" font-style="italic" font-size="10.8" fill="#000" text-anchor="middle" textLength="100.6" lengthAdjust="spacing" style="filter:grayscale(1)">Renal cell carcinoma</text>
<text transform="translate(292.90,289.00) scale(1.08,1)" font-family="Liberation Sans, sans-serif" font-weight="bold" font-size="22.2" fill="#000" style="filter:grayscale(1)">d</text>
</g>
</svg>
</body></html>
